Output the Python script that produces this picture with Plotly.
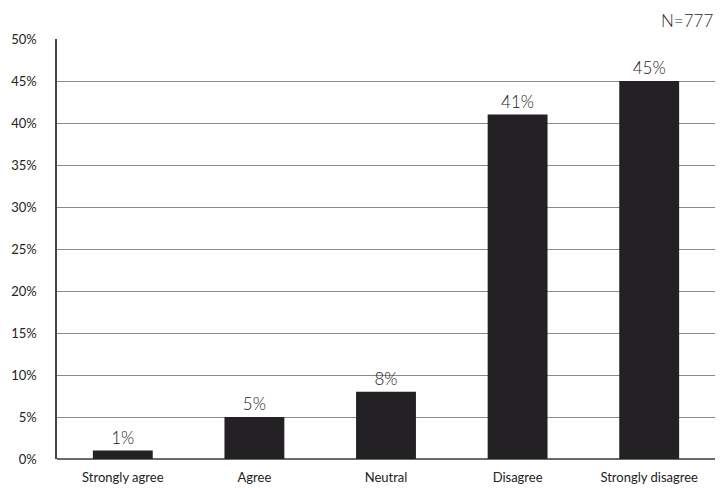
import plotly.graph_objects as go

categories = ["Strongly agree", "Agree", "Neutral", "Disagree", "Strongly disagree"]
shares = [1, 5, 8, 41, 45]
tick_values = [0, 5, 10, 15, 20, 25, 30, 35, 40, 45, 50]
tick_labels = [f"{v}%" for v in tick_values]
sample_note = "N=777"

fig = go.Figure(
    go.Bar(
        x=categories,
        y=shares,
        marker=dict(color="#232124", line=dict(width=0)),
        text=[f"{v}%" for v in shares],
        textposition="outside",
        textfont=dict(family="Lato, sans-serif", size=17, color="#222222", weight=300),
        cliponaxis=False,
    )
)

fig.update_layout(
    width=721,
    height=488,
    margin=dict(l=57, r=6, t=39, b=29),
    paper_bgcolor="white",
    plot_bgcolor="white",
    bargap=0.545,
    showlegend=False,
    font=dict(family="Lato, sans-serif", color="#222222"),
    annotations=[
        dict(
            text=sample_note,
            xref="paper", yref="paper",
            x=1.0, y=1.0, xanchor="right", yanchor="bottom",
            yshift=6,
            showarrow=False,
            font=dict(family="Lato, sans-serif", size=17, color="#2a2a2a", weight=300),
        )
    ],
)

fig.update_xaxes(
    automargin=False,
    showgrid=False,
    showline=False,
    ticks="",
    tickfont=dict(size=13, color="#222222"),
    ticklabelstandoff=9,
)

fig.update_yaxes(
    automargin=False,
    range=[0, 50],
    tickvals=tick_values,
    ticktext=tick_labels,
    showgrid=True,
    gridcolor="#8a8a8a",
    gridwidth=1.3,
    zeroline=True,
    zerolinecolor="#6a6a6a",
    zerolinewidth=2,
    showline=True,
    linecolor="#444444",
    linewidth=1.5,
    ticks="",
    tickfont=dict(size=13, color="#222222"),
    ticklabelstandoff=16,
)

fig.write_html("out.html")
